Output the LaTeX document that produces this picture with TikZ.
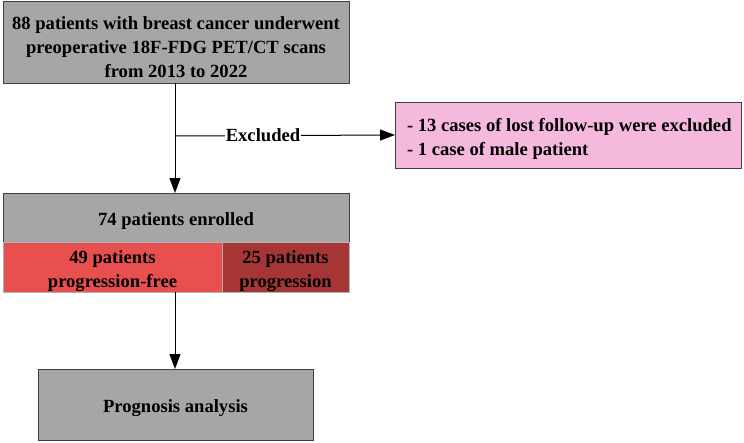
\documentclass[tikz,border=0pt]{standalone}
\usepackage{fontspec}
\setmainfont{Liberation Serif}
\usetikzlibrary{arrows.meta}
\definecolor{boxgray}{HTML}{A6A6A6}
\definecolor{boxpink}{HTML}{F4B9DC}
\definecolor{boxred}{HTML}{E85050}
\definecolor{boxdred}{HTML}{A63636}
\definecolor{edge}{HTML}{404040}
\begin{document}
\begin{tikzpicture}[x=1pt,y=-1pt,
  every node/.style={font=\fontsize{18.6}{24}\selectfont\bfseries, inner sep=0pt, outer sep=0pt},
  graybox/.style={draw=edge, line width=1pt, fill=boxgray},
  redbox/.style={draw=gray!60, line width=0.6pt},
  label/.style={align=center, yshift=-4pt},
  arr/.style={line width=1pt, -{Triangle[length=15pt,width=11pt]}}]
\useasboundingbox (0,0) rectangle (744,442);
\node[graybox, minimum width=346pt, minimum height=82pt] (top) at (176,42) {};
\node[label, yshift=-1pt] (toptext) at (top.center) {88 patients with breast cancer underwent\\preoperative 18F-FDG PET/CT scans\\from 2013 to 2022};
\node[graybox, minimum width=346pt, minimum height=49pt] (mid) at (176,217.5) {};
\node[label] (midtext) at (mid.center) {74 patients enrolled};
\node[redbox, fill=boxred, minimum width=219pt, minimum height=50pt] (pf) at (112.5,267) {};
\node[label] (pftext) at (pf.center) {49 patients\\progression-free};
\node[redbox, fill=boxdred, minimum width=127pt, minimum height=50pt] (pr) at (285.5,267) {};
\node[label] (prtext) at (pr.center) {25 patients\\progression};
\node[draw=edge, line width=1pt, fill=boxpink, minimum width=346pt, minimum height=66pt] (exc) at (568,135) {};
\node[anchor=west, align=left, yshift=-4pt] (exctext) at ([xshift=12pt]exc.west)
  {- 13 cases of lost follow-up were excluded\\- 1 case of male patient};
\node[graybox, minimum width=275pt, minimum height=71pt] (prog) at (175.5,404.5) {};
\node[label] (progtext) at (prog.center) {Prognosis analysis};
\coordinate (split) at (175,136);
\coordinate (rowbot) at (175,292);
\draw[arr] (top.south -| split) -- (split |- mid.north);
\draw[arr] (split) -- node[pos=0.4, fill=white, inner xsep=1pt, inner ysep=2pt] {Excluded} (exc.west);
\draw[arr] (rowbot) -- (rowbot |- prog.north);
\end{tikzpicture}
\end{document}
